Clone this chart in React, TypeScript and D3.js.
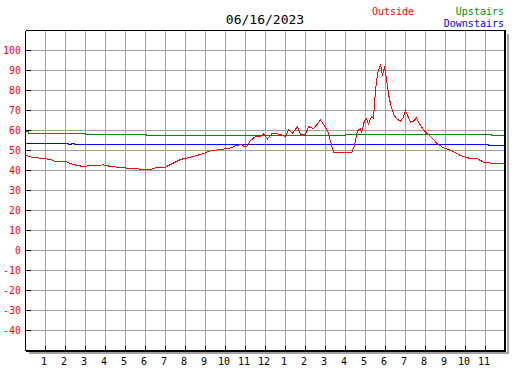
import React from "react";
import * as d3 from "d3";

// chart values (hours since midnight, degrees)
const hourLabels = ["1", "2", "3", "4", "5", "6", "7", "8", "9", "10", "11", "12",
  "1", "2", "3", "4", "5", "6", "7", "8", "9", "10", "11"];
const tempTicks = [-40, -30, -20, -10, 0, 10, 20, 30, 40, 50, 60, 70, 80, 90, 100];

const outsideHours = [0, 0.17, 0.42, 0.92, 1.25, 1.5, 2.0, 2.25, 2.58, 2.92, 3.25, 3.92, 4.25, 4.75,
  5.25, 5.75, 6.25, 6.58, 7.0, 7.25, 7.75, 8.25, 8.75, 9.25, 9.75, 10.25, 10.55, 10.8, 10.95, 11.1,
  11.25, 11.5, 11.75, 11.9, 12.1, 12.35, 12.75, 13.0, 13.15, 13.35, 13.6, 13.75, 14.0, 14.15, 14.4,
  14.75, 15.1, 15.4, 15.75, 16.3, 16.45, 16.6, 16.75, 16.8, 16.95, 17.05, 17.15, 17.3, 17.4, 17.5,
  17.6, 17.75, 17.85, 17.95, 18.05, 18.15, 18.25, 18.4, 18.55, 18.75, 18.9, 19.0, 19.1, 19.25, 19.4,
  19.55, 19.75, 20.0, 20.25, 20.6, 20.9, 21.25, 21.75, 22.1, 22.6, 22.9, 23.25, 23.85, 24];
const outsideTemps = [48, 47, 46.5, 46, 45.5, 44.5, 44.5, 43.5, 42.5, 42, 42.5, 42.8, 42, 41.5,
  41, 40.7, 40.5, 41.5, 41.7, 43, 45.5, 46.7, 48, 49.8, 50.5, 51.3, 52.5, 53, 51.8, 52.3,
  55, 57, 57, 58.3, 55.8, 58.7, 58, 57, 60.3, 58.7, 62, 58, 58, 62, 60.8,
  65.3, 60, 49.2, 48.8, 48.8, 52.5, 60, 60.8, 58.8, 65, 65.8, 63.3, 67, 66.3, 80,
  88.3, 93, 87.5, 92, 85.8, 78.3, 73.3, 68.3, 65.8, 64.7, 66.7, 70, 67.5, 64.2, 64.7,
  66.3, 62.5, 59.2, 57, 53.3, 51.3, 50.2, 47.5, 46.3, 45.8, 44.2, 43.7, 43.3, 43.3];

const upstairsHours = [0, 0.15, 3.0, 6.05, 16, 23.3, 24];
const upstairsTemps = [59.5, 58.5, 58, 57.5, 58, 57.5, 57.5];

const downstairsHours = [0, 2.15, 2.3, 2.45, 23.15, 24];
const downstairsTemps = [53.5, 53, 53.5, 53, 52.5, 52.5];

const W = 527;
const H = 370;
const left = 25, right = 505, top = 30, bottom = 350;
const font = "'DejaVu Sans Mono', monospace";

export default function App() {
  const x = d3.scaleLinear().domain([0, 24]).range([left, right]);
  const y = d3.scaleLinear().domain([-50, 110]).range([bottom, top]);

  const line = d3.line<[number, number]>().x(d => x(d[0])).y(d => y(d[1]));
  const step = d3.line<[number, number]>().x(d => x(d[0])).y(d => y(d[1])).curve(d3.curveStepAfter);

  const outside = outsideHours.map((h, i) => [h, outsideTemps[i]] as [number, number]);
  const upstairs = upstairsHours.map((h, i) => [h, upstairsTemps[i]] as [number, number]);
  const downstairs = downstairsHours.map((h, i) => [h, downstairsTemps[i]] as [number, number]);

  const hours = d3.range(1, 24);

  return (
    <svg width={W} height={H} style={{ position: "absolute", left: 0, top: 0, background: "#fff" }}>
      <g transform="translate(0.5,0.5)">
        {/* grid */}
        <g stroke="#a0a0a0" strokeWidth={1} shapeRendering="crispEdges">
          {hours.map(h => (
            <line key={"v" + h} x1={x(h)} x2={x(h)} y1={top} y2={bottom} />
          ))}
          {tempTicks.map(t => (
            <line key={"h" + t} x1={left} x2={right} y1={y(t)} y2={y(t)} />
          ))}
        </g>

        {/* series */}
        <g fill="none" strokeWidth={1} shapeRendering="crispEdges">
          <path d={step(upstairs) || ""} stroke="#008c00" />
          <path d={step(downstairs) || ""} stroke="#0000ff" />
          <path d={line(outside) || ""} stroke="#ff0000" />
        </g>

        {/* frame + shadow */}
        <g shapeRendering="crispEdges">
          <line x1={right + 2} x2={right + 2} y1={top + 3} y2={bottom + 3} stroke="#a0a0a0" strokeWidth={2} />
          <line x1={left + 3} x2={right + 3} y1={bottom + 2} y2={bottom + 2} stroke="#a0a0a0" strokeWidth={2} />
          <line x1={left} x2={right} y1={top} y2={top} stroke="#000" />
          <line x1={left} x2={left} y1={top} y2={bottom} stroke="#000" />
          <line x1={right - 0.5} x2={right - 0.5} y1={top} y2={bottom + 1} stroke="#000" strokeWidth={2} />
          <line x1={left} x2={right} y1={bottom + 0.5} y2={bottom + 0.5} stroke="#000" strokeWidth={2} />
          {tempTicks.map(t => (
            <line key={"yt" + t} x1={left} x2={left + 5} y1={y(t)} y2={y(t)} stroke="#000" />
          ))}
          {hours.map(h => (
            <line key={"xt" + h} x1={x(h)} x2={x(h)} y1={bottom - 5} y2={bottom} stroke="#000" />
          ))}
        </g>
      </g>

      {/* axis labels */}
      <g fontFamily={font} fontSize={10} fill="#ff0000" textAnchor="end">
        {tempTicks.map(t => (
          <text key={"yl" + t} x={21} y={y(t) + 3.5}>{t}</text>
        ))}
      </g>
      <g fontFamily={font} fontSize={10} fill="#000" textAnchor="middle">
        {hourLabels.map((l, i) => (
          <text key={"xl" + i} x={x(i + 1) - 1} y={365}>{l}</text>
        ))}
      </g>

      {/* title + legend */}
      <text x={(left + right) / 2} y={24} fontFamily={font} fontSize={13} textAnchor="middle" fill="#000">06/16/2023</text>
      <text x={372} y={15} fontFamily={font} fontSize={10} fill="#ff0000">Outside</text>
      <text x={504} y={15} fontFamily={font} fontSize={10} fill="#008c00" textAnchor="end">Upstairs</text>
      <text x={504} y={27} fontFamily={font} fontSize={10} fill="#0000ff" textAnchor="end">Downstairs</text>
    </svg>
  );
}
